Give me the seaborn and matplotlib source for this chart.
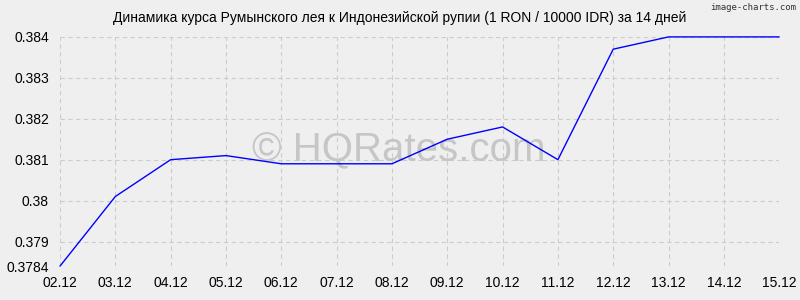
import matplotlib
matplotlib.use("Agg")
import matplotlib.pyplot as plt
import seaborn as sns
import pandas as pd

dates = ["02.12", "03.12", "04.12", "05.12", "06.12", "07.12", "08.12",
         "09.12", "10.12", "11.12", "12.12", "13.12", "14.12", "15.12"]
rates = [0.3784, 0.3801, 0.3810, 0.3811, 0.3809, 0.3809, 0.3809,
         0.3815, 0.3818, 0.3810, 0.3837, 0.3840, 0.3840, 0.3840]
y_ticks = [0.3784, 0.379, 0.380, 0.381, 0.382, 0.383, 0.384]
y_tick_labels = ["0.3784", "0.379", "0.38", "0.381", "0.382", "0.383", "0.384"]
title = "Динамика курса Румынского лея к Индонезийской рупии (1 RON / 10000 IDR) за 14 дней"

sns.set_style("white")
plt.rcParams['font.family'] = ['Liberation Sans', 'DejaVu Sans']

df = pd.DataFrame({"idx": range(len(dates)), "rate": rates})

bg = "#efefef"
fig = plt.figure(figsize=(8, 3), dpi=100, facecolor=bg)
ax = fig.add_axes([0.075, 0.113, 0.899, 0.764])
ax.set_facecolor(bg)

sns.lineplot(data=df, x="idx", y="rate", ax=ax, color="#0000ff", linewidth=1.0, zorder=3)
for ln in ax.get_lines():
    ln.set_clip_on(False)

ax.set_xlim(0, len(dates) - 1)
ax.set_ylim(0.3784, 0.384)
ax.set_xticks(range(len(dates)))
ax.set_xticklabels(dates)
ax.set_yticks(y_ticks)
ax.set_yticklabels(y_tick_labels)
ax.set_xlabel("")
ax.set_ylabel("")
ax.tick_params(axis="both", labelsize=10, colors="#000000", length=0)
ax.tick_params(axis="y", pad=8)
ax.tick_params(axis="x", pad=7)
for s in ax.spines.values():
    s.set_visible(False)
ax.grid(True, color="#cccccc", linestyle=(0, (4, 3)), linewidth=0.8)
ax.set_axisbelow(True)

ax.text(0.498, 0.5, "© HQRates.com", ha="center", va="center", fontsize=29,
        color="#c6c6c6", transform=fig.transFigure, zorder=2)

fig.text(0.5, 0.94, title, ha="center", va="center", fontsize=10, color="#000000")
fig.text(0.995, 0.99, "image-charts.com", ha="right", va="top", fontsize=6.5,
         color="#333333", family=["DejaVu Sans Mono"])

fig.savefig("out.png", dpi=100, facecolor=bg)
